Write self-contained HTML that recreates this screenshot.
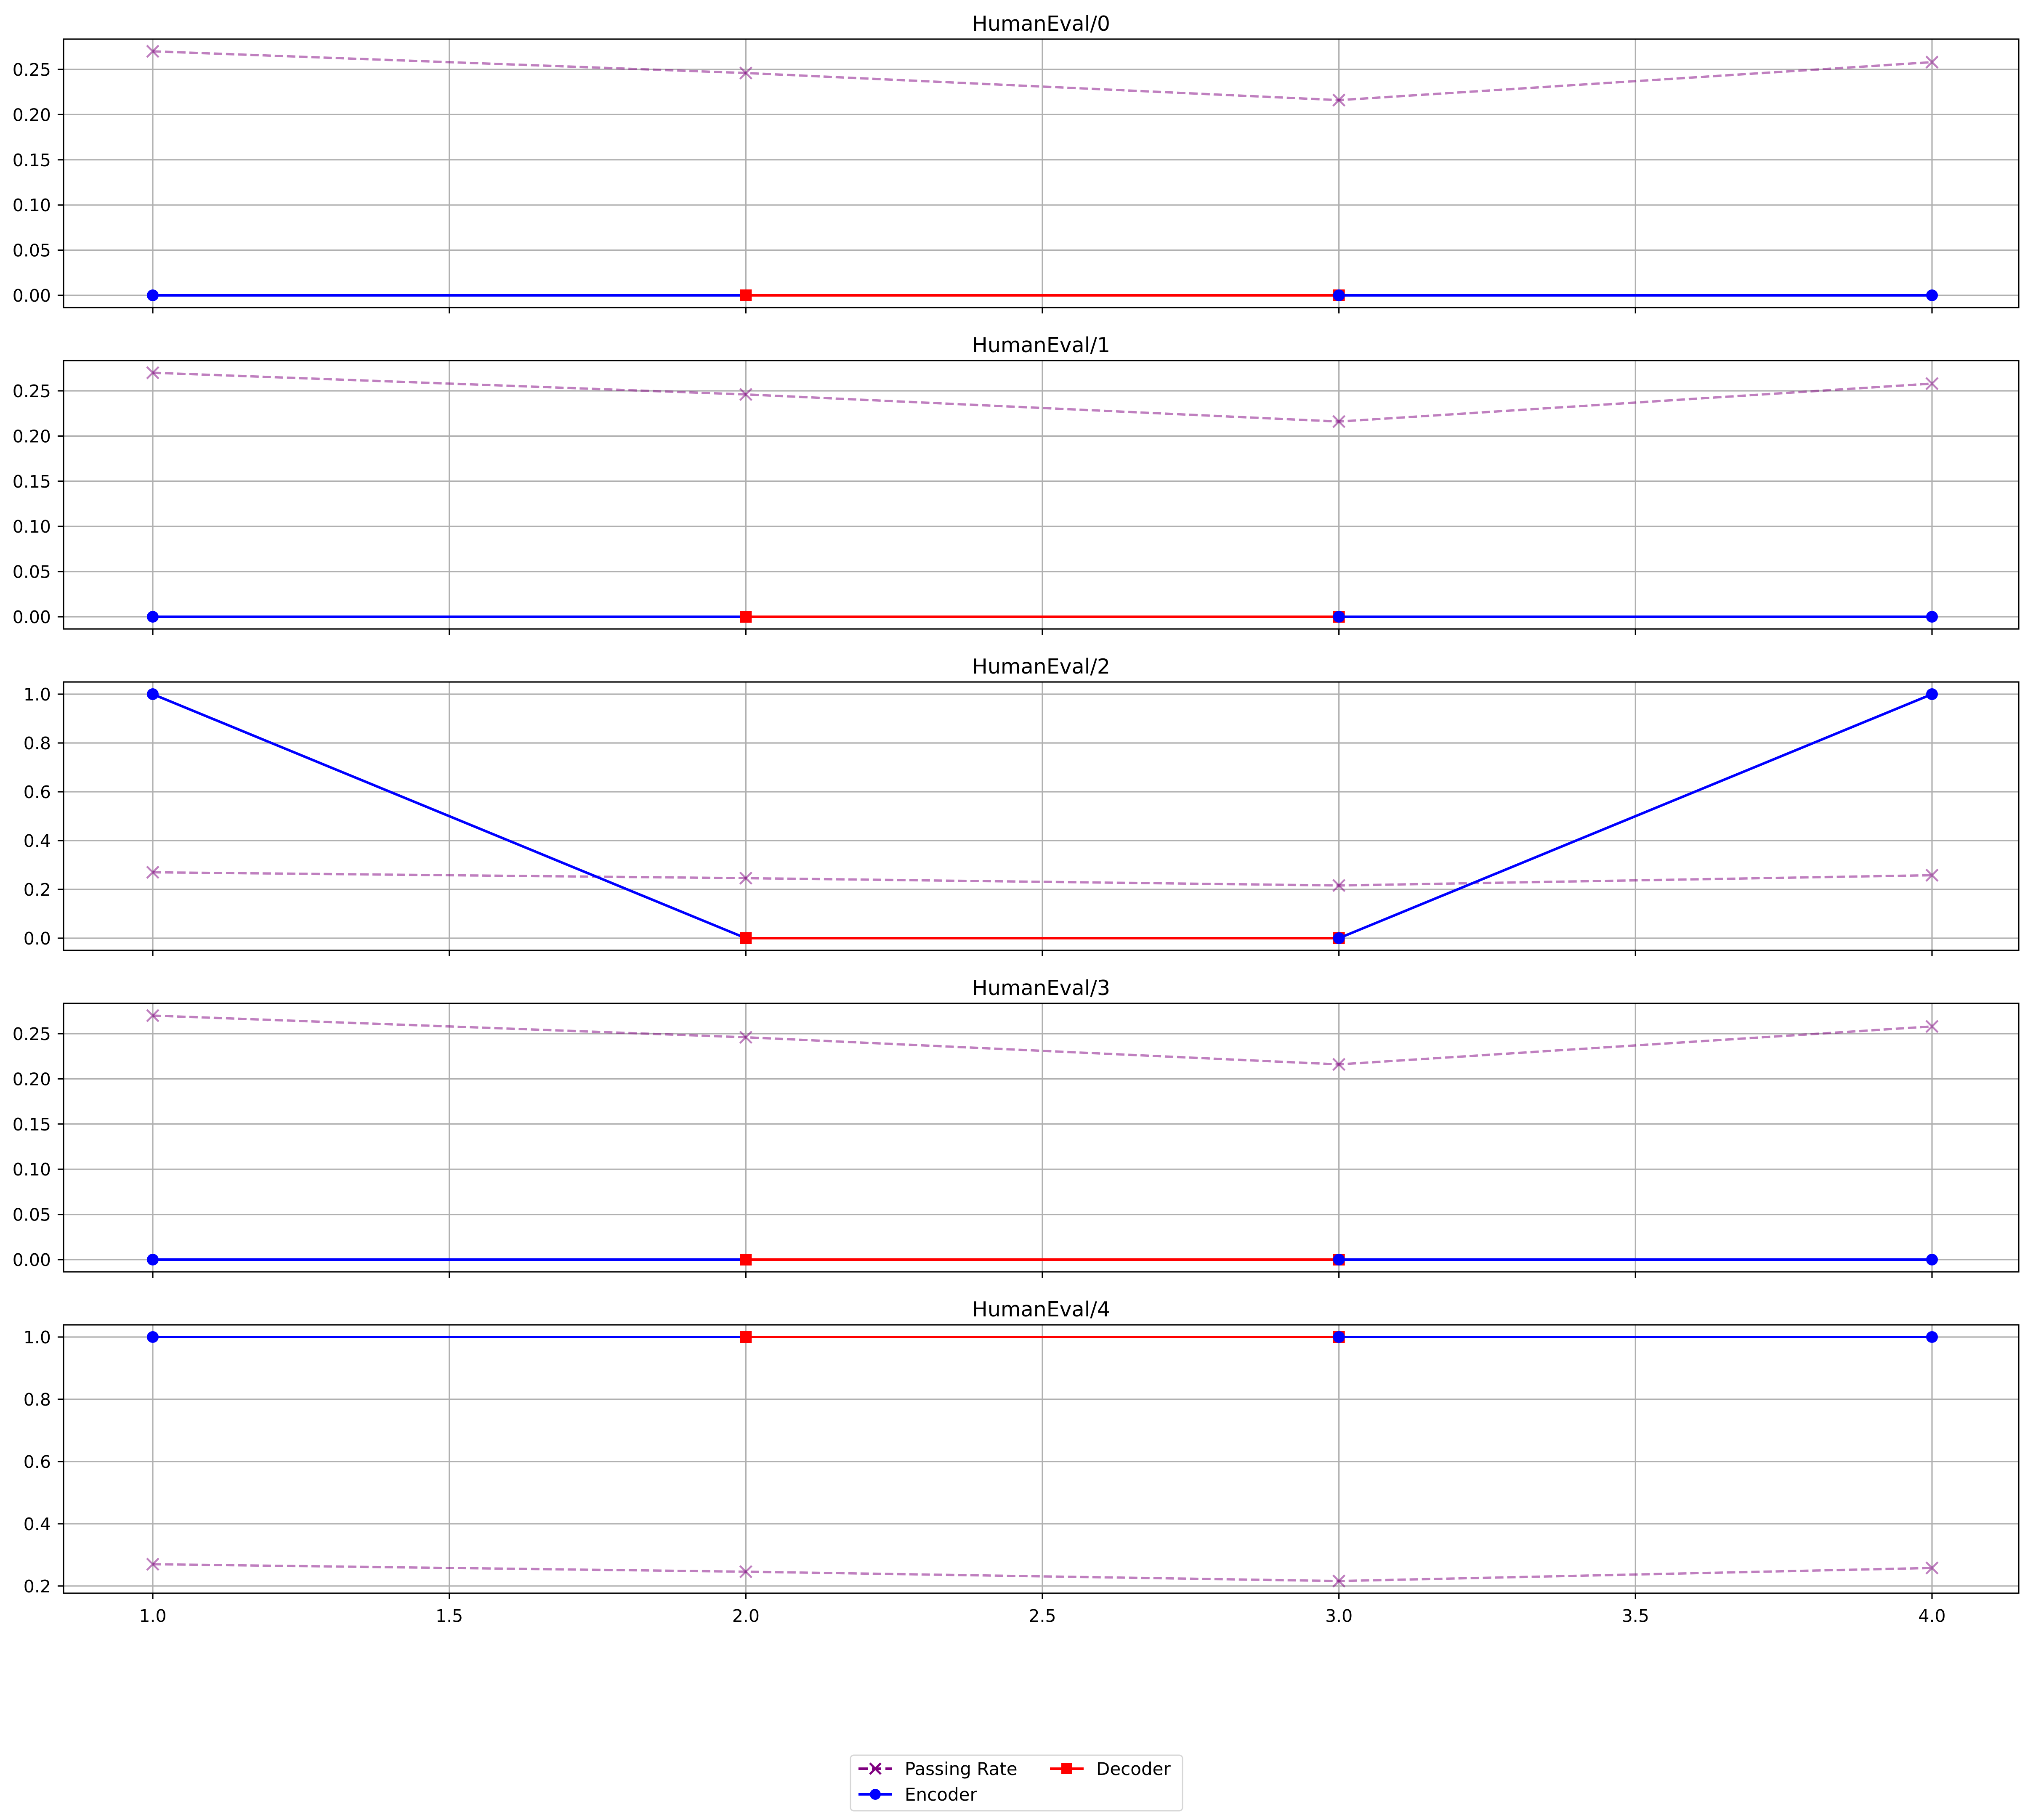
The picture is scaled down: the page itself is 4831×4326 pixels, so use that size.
<!DOCTYPE html>
<html><head><meta charset="utf-8">
<style>
html,body{margin:0;padding:0;background:#fff;}
svg{display:block;font-family:"DejaVu Sans","Liberation Sans",sans-serif;}
</style></head>
<body>
<svg id="chart" width="4831" height="4326" viewBox="0 0 4831 4326" xmlns="http://www.w3.org/2000/svg">
<rect width="4831" height="4326" fill="#fff"/>
<g>
  <rect x="2021" y="4172" width="789" height="132" rx="8" fill="#fff" stroke="#d6d6d6" stroke-width="3"/>
  <g>
    <line x1="2040" y1="4204" x2="2120" y2="4204" stroke="#800080" stroke-width="6" stroke-dasharray="22,10"/>
    <path d="M2067,4191 L2093,4217 M2067,4217 L2093,4191" stroke="#800080" stroke-width="5"/>
    <text x="2150" y="4219" font-size="42">Passing Rate</text>
  </g>
  <g>
    <line x1="2495" y1="4204" x2="2575" y2="4204" stroke="#f00" stroke-width="6"/>
    <rect x="2522" y="4191" width="26" height="26" fill="#f00"/>
    <text x="2605" y="4219" font-size="42">Decoder</text>
  </g>
  <g>
    <line x1="2040" y1="4265" x2="2120" y2="4265" stroke="#00f" stroke-width="6"/>
    <circle cx="2080" cy="4265" r="13" fill="#00f"/>
    <text x="2150" y="4280" font-size="42">Encoder</text>
  </g>
</g>
</svg>
<script>
const xValues = [1, 2, 3, 4];
const xTicks = [1.0, 1.5, 2.0, 2.5, 3.0, 3.5, 4.0];
const titles = ["HumanEval/0","HumanEval/1","HumanEval/2","HumanEval/3","HumanEval/4"];
const passingRate = [0.270, 0.246, 0.216, 0.258];
const encoder0 = [0, 0, 0, 0];
const encoder1 = [0, 0, 0, 0];
const encoder2 = [1, 0, 0, 1];
const encoder3 = [0, 0, 0, 0];
const encoder4 = [1, 1, 1, 1];
const yTicks0 = [0, 0.05, 0.10, 0.15, 0.20, 0.25];
const yTicks2 = [0, 0.2, 0.4, 0.6, 0.8, 1.0];
const yTicks4 = [0.2, 0.4, 0.6, 0.8, 1.0];
const encoders = [encoder0, encoder1, encoder2, encoder3, encoder4];
const yTickSets = [yTicks0, yTicks0, yTicks2, yTicks0, yTicks4];

const NS = "http://www.w3.org/2000/svg";
const svg = document.getElementById('chart');
const L = 151, R = 4797, H = 638, TOPS = [93, 857, 1621, 2385, 3149];
const X1PX = 363, X4PX = 4591;
function mk(tag, attrs, parent){const e=document.createElementNS(NS,tag);for(const k in attrs)e.setAttribute(k,attrs[k]);(parent||svg).appendChild(e);return e;}
function xs(v){return X1PX + (v - 1) / 3 * (X4PX - X1PX);}

for (let p = 0; p < 5; p++) {
  const top = TOPS[p], bot = top + H;
  const enc = encoders[p];
  const all = passingRate.concat(enc);
  const dmin = Math.min(...all), dmax = Math.max(...all), m = (dmax - dmin) * 0.05;
  const y0 = dmin - m, y1 = dmax + m;
  const ys = v => bot - (v - y0) / (y1 - y0) * H;
  const g = mk('g', {});
  
  
  xTicks.forEach(t => {
    const l = mk('line', {x1: xs(t), x2: xs(t), y1: top, y2: bot, stroke: '#b0b0b0', 'stroke-width': 3.2}, g);
    
    
    const tk = mk('line', {x1: xs(t), x2: xs(t), y1: bot, y2: bot + 14, stroke: '#000', 'stroke-width': 3.2}, g);
    
    
  });
  yTickSets[p].forEach(t => {
    const y = ys(t);
    const l = mk('line', {x1: L, x2: R, y1: y, y2: y, stroke: '#b0b0b0', 'stroke-width': 3.2}, g);
    
    
    const tk = mk('line', {x1: L - 14, x2: L, y1: y, y2: y, stroke: '#000', 'stroke-width': 3.2}, g);
    
    
    const tx = mk('text', {x: L - 30, y: y + 15, 'font-size': 41, 'text-anchor': 'end'}, g);
    
    
    tx.textContent = (p === 2 || p === 4) ? t.toFixed(1) : t.toFixed(2);
  });
  const pts = xValues.map((x, i) => xs(x) + ',' + ys(passingRate[i])).join(' ');
  const pl = mk('polyline', {points: pts, fill: 'none', stroke: '#800080', 'stroke-opacity': 0.5, 'stroke-width': 5.5, 'stroke-dasharray': '20,9'}, g);
  
  
  xValues.forEach((x, i) => {
    const cx = xs(x), cy = ys(passingRate[i]);
    const mkx = mk('path', {d: `M${cx-14},${cy-14}L${cx+14},${cy+14}M${cx-14},${cy+14}L${cx+14},${cy-14}`, stroke: '#800080', 'stroke-opacity': 0.5, 'stroke-width': 4.5}, g);
    
    
  });
  const drawEnc = (i0, i1) => {
    const l = mk('line', {x1: xs(xValues[i0]), y1: ys(enc[i0]), x2: xs(xValues[i1]), y2: ys(enc[i1]), stroke: '#00f', 'stroke-width': 6}, g);
    
    
    [i0, i1].forEach(i => {
      const c = mk('circle', {cx: xs(xValues[i]), cy: ys(enc[i]), r: 14, fill: '#00f'}, g);
      
      
    });
  };
  drawEnc(0, 1);
  const dl = mk('line', {x1: xs(xValues[1]), y1: ys(enc[1]), x2: xs(xValues[2]), y2: ys(enc[2]), stroke: '#f00', 'stroke-width': 6}, g);
  
  
  [1, 2].forEach(i => {
    const s = mk('rect', {x: xs(xValues[i]) - 14, y: ys(enc[i]) - 14, width: 28, height: 28, fill: '#f00'}, g);
    
    
  });
  drawEnc(2, 3);
  const fr = mk('rect', {x: L, y: top, width: R - L, height: H, fill: 'none', stroke: '#000', 'stroke-width': 3.2}, g);
  
  
  const ti = mk('text', {x: (L + R) / 2, y: top - 20, 'font-size': 49, 'text-anchor': 'middle'}, g);
  
  
  ti.textContent = titles[p];
  if (p === 4) {
    xTicks.forEach(t => {
      const tx = mk('text', {x: xs(t), y: bot + 68, 'font-size': 41, 'text-anchor': 'middle'}, g);
      
      
      tx.textContent = t.toFixed(1);
    });
  }
}
</script>
</body></html>
